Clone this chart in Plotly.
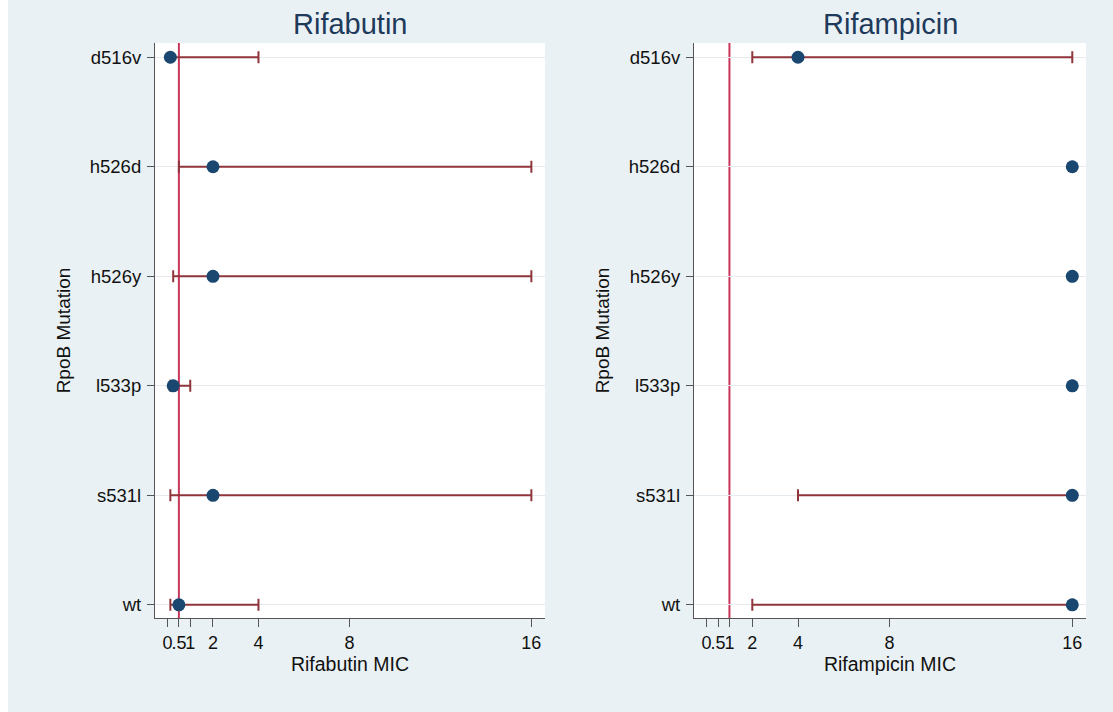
import plotly.graph_objects as go

W, H = 1113, 712

# ---- data ----
mutations = ["d516v", "h526d", "h526y", "l533p", "s531l", "wt"]
ypos = [6, 5, 4, 3, 2, 1]

rifabutin_mic = [0.125, 2, 2, 0.25, 2, 0.5]
rifabutin_lo = [0.125, 0.5, 0.25, 0.125, 0.125, 0.125]
rifabutin_hi = [4, 16, 16, 1, 16, 4]
rifabutin_bp = 0.5

rifampicin_mic = [4, 16, 16, 16, 16, 16]
rifampicin_lo = [2, 16, 16, 16, 4, 2]
rifampicin_hi = [16, 16, 16, 16, 16, 16]
rifampicin_bp = 1

xtick_vals = [0, 0.5, 1, 2, 4, 8, 16]
xtick_text = ["0", ".5", "1", "2", "4", "8", "16"]

panels = [
    ("Rifabutin", "Rifabutin MIC", rifabutin_mic, rifabutin_lo, rifabutin_hi, rifabutin_bp),
    ("Rifampicin", "Rifampicin MIC", rifampicin_mic, rifampicin_lo, rifampicin_hi, rifampicin_bp),
]

NAVY = "#1a476f"
MAROON = "#90353b"
RED = "#c8365c"
BG = "#eaf1f4"
AXC = "#555555"
TXT = "#111111"
FONT = "Liberation Sans, Arial, Helvetica, sans-serif"

xdomains = [[155 / W, 545 / W], [694 / W, 1086 / W]]
ydomain = [1 - 618 / H, 1 - 43 / H]

fig = go.Figure()
annotations = []
shapes = []
for i, (title, xtitle, mic, lo, hi, bp) in enumerate(panels):
    n = "" if i == 0 else str(i + 1)
    plus = [h - m for h, m in zip(hi, mic)]
    minus = [m - l for m, l in zip(mic, lo)]
    fig.add_trace(go.Scatter(
        x=mic, y=ypos, mode="markers",
        marker=dict(color=NAVY, size=13),
        error_x=dict(type="data", symmetric=False, array=plus, arrayminus=minus,
                     color=MAROON, thickness=2, width=6),
        xaxis="x" + n, yaxis="y" + n, showlegend=False,
    ))
    shapes.append(dict(type="line", xref="x" + n, yref="paper",
                       x0=bp, x1=bp, y0=ydomain[0], y1=ydomain[1],
                       line=dict(color=RED, width=2), layer="below"))
    fig.layout["xaxis" + n] = dict(
        domain=xdomains[i], anchor="y" + n, range=[-0.55, 16.6],
        tickvals=xtick_vals, ticktext=xtick_text, tickangle=0,
        ticks="outside", ticklen=8, tickcolor=AXC, tickwidth=1.2,
        showline=True, linecolor=AXC, linewidth=1.2, showgrid=False, zeroline=False,
        tickfont=dict(size=18, color=TXT, family=FONT),
        title=dict(text=xtitle, font=dict(size=19.5, color=TXT, family=FONT), standoff=4),
        fixedrange=True,
    )
    fig.layout["yaxis" + n] = dict(
        domain=ydomain, anchor="x" + n, range=[0.88, 6.13],
        tickvals=ypos, ticktext=mutations,
        ticks="outside", ticklen=7, tickcolor=AXC, tickwidth=1.2,
        ticklabelstandoff=2,
        showline=True, linecolor=AXC, linewidth=1.2,
        showgrid=True, gridcolor="#e4eaed", gridwidth=1, zeroline=False,
        tickfont=dict(size=18.5, color=TXT, family=FONT),
        title=dict(text="RpoB Mutation", font=dict(size=19, color=TXT, family=FONT), standoff=14),
        fixedrange=True,
    )
    xc = (xdomains[i][0] + xdomains[i][1]) / 2
    annotations.append(dict(text=title, x=xc, y=1 - 24 / H, xref="paper", yref="paper",
                            xanchor="center", yanchor="middle", showarrow=False,
                            font=dict(size=29, color="#1e3a5a", family=FONT)))

# white strip on the left edge of the image
shapes.append(dict(type="rect", xref="paper", yref="paper", x0=0, x1=8 / W, y0=0, y1=1,
                   fillcolor="white", line=dict(width=0), layer="below"))

fig.update_layout(
    width=W, height=H, margin=dict(l=0, r=0, t=0, b=0),
    paper_bgcolor=BG, plot_bgcolor="white",
    annotations=annotations, shapes=shapes,
    font=dict(family=FONT),
)

fig.write_html("out.html", config={"displayModeBar": False},
               post_script="document.body.style.margin='0px';")
